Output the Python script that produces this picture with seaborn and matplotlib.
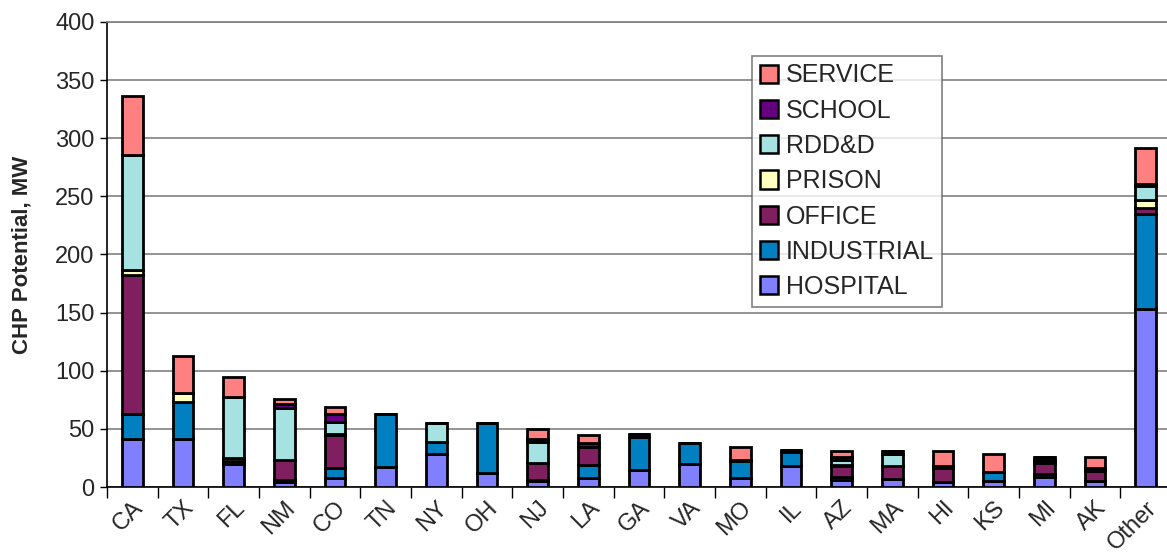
import numpy as np
import pandas as pd
import matplotlib
matplotlib.use('Agg')
import matplotlib.pyplot as plt
import seaborn as sns
from matplotlib.patches import Patch

# ── Data (MW) ──
states = ['CA', 'TX', 'FL', 'NM', 'CO', 'TN', 'NY', 'OH', 'NJ', 'LA', 'GA',
          'VA', 'MO', 'IL', 'AZ', 'MA', 'HI', 'KS', 'MI', 'AK', 'Other']
hospital   = [41, 41, 20, 4, 8, 17, 28, 12, 5, 8, 15, 20, 8, 18, 6, 7, 4, 5, 9, 5, 153]
industrial = [22, 32, 0, 2, 8, 46, 11, 43, 1, 11, 28, 18, 14, 12, 3, 0, 0, 8, 2, 0, 82]
office     = [119, 0, 2, 17, 29, 0, 0, 0, 15, 15, 0, 0, 0, 0, 9, 11, 12, 0, 10, 9, 5]
prison     = [5, 8, 3, 0, 1, 0, 0, 0, 0, 0, 0, 0, 0, 0, 1, 0, 0, 0, 1, 0, 7]
rddd       = [99, 0, 52, 45, 10, 0, 16, 0, 18, 0, 0, 0, 0, 0, 4, 10, 0, 0, 1, 0, 12]
school     = [0, 0, 0, 3, 7, 0, 0, 0, 2, 4, 3, 0, 1, 2, 3, 3, 2, 0, 3, 2, 2]
service    = [50, 32, 18, 5, 6, 0, 0, 0, 9, 7, 0, 0, 11, 0, 5, 0, 13, 15, 0, 10, 31]

series = [
    ('HOSPITAL', hospital, '#8080FF'),
    ('INDUSTRIAL', industrial, '#0080C0'),
    ('OFFICE', office, '#7F1F5F'),
    ('PRISON', prison, '#FFFFC0'),
    ('RDD&D', rddd, '#A6E2E2'),
    ('SCHOOL', school, '#660080'),
    ('SERVICE', service, '#FF8080'),
]

# ── Style ──
sns.set_theme(style="white")
plt.rcParams['font.family'] = ['Liberation Sans', 'DejaVu Sans']

fig = plt.figure(figsize=(11.67, 5.59), dpi=100)
ax = fig.add_axes([107 / 1167, 72 / 559, 1064 / 1167, 465 / 559])

bottom = np.zeros(len(states))
for name, vals, color in series:
    df = pd.DataFrame({'state': states, 'mw': vals})
    sns.barplot(data=df, x='state', y='mw', bottom=bottom, color=color,
                width=0.41, edgecolor='black', linewidth=2.0,
                saturation=1, ax=ax, errorbar=None, zorder=3)
    bottom += np.array(vals)

ax.set_ylim(0, 400)
ax.set_xlim(-0.5, 20.5)
ax.set_yticks(np.arange(0, 401, 50))
ax.yaxis.grid(True, color='#808080', linewidth=1.2, zorder=0)
ax.tick_params(axis='y', labelsize=17, length=5, width=1, color='black',
               direction='out', left=True, pad=4)
ax.set_xticks(np.arange(len(states)))
ax.set_xticklabels(states, rotation=45, ha='right', rotation_mode='anchor',
                   fontsize=17)
ax.tick_params(axis='x', length=0, pad=7)
ax.set_xticks(np.arange(-0.5, 20.6, 1), minor=True)
ax.tick_params(axis='x', which='minor', length=8, width=1, color='black',
               direction='out', bottom=True)
ax.set_xlabel('')
ax.set_ylabel('CHP Potential, MW', fontsize=16, fontweight='bold', labelpad=16)

for side in ['left', 'bottom']:
    ax.spines[side].set_color('black')
    ax.spines[side].set_linewidth(1.2)
ax.spines['top'].set_color('#808080')
ax.spines['right'].set_visible(False)

handles = [Patch(facecolor=c, edgecolor='black', linewidth=1.8, label=n)
           for n, _, c in reversed(series)]
leg = fig.legend(handles=handles, loc='upper left',
                 bbox_to_anchor=(752 / 1167, 1 - 56 / 559),
                 fontsize=18, frameon=True, fancybox=False,
                 handlelength=0.75, handleheight=0.75, handletextpad=0.3,
                 labelspacing=0.45, borderpad=0.3, borderaxespad=0)
leg.get_frame().set_edgecolor('#606060')
leg.get_frame().set_linewidth(1.2)

fig.savefig('out.png', dpi=100)
